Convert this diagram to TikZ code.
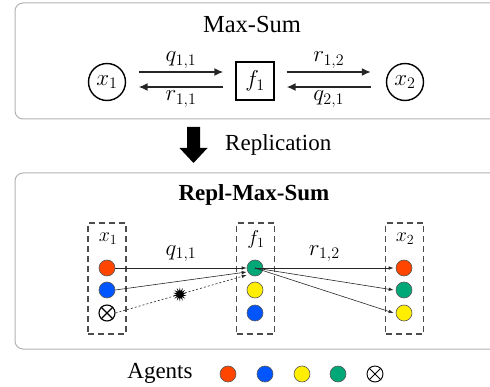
\documentclass[tikz,border=0pt]{standalone}
\usepackage{fix-cm}
\usepackage{fontspec}
\setmainfont{Liberation Serif}
\usetikzlibrary{arrows.meta,shapes.geometric}
\definecolor{aorange}{HTML}{FF4500}
\definecolor{ablue}{HTML}{0055FF}
\definecolor{ayellow}{HTML}{FFEE00}
\definecolor{agreen}{HTML}{00A878}
\tikzset{
 panel/.style={draw=black!30, line width=1pt, rounded corners=8pt},
 bigtxt/.style={font=\fontsize{23}{26}\selectfont, inner sep=0},
 mathtop/.style={font=\fontsize{23}{26}\selectfont, inner sep=0},
 midtxt/.style={font=\fontsize{20}{23}\selectfont, inner sep=0},
 var/.style={circle, draw, line width=1.4pt, minimum size=37pt, inner sep=0, font=\fontsize{23}{26}\selectfont},
 fac/.style={rectangle, draw, line width=1.4pt, minimum size=38pt, inner sep=0, font=\fontsize{23}{26}\selectfont},
 msg/.style={-{Latex[length=9pt,width=8pt]}, line width=1.5pt, draw=black!85},
 grp/.style={draw=black!70, dash pattern=on 6pt off 4pt, line width=1.8pt, minimum width=38pt, minimum height=111pt, inner sep=0},
 agent/.style={circle, draw=black!65, line width=0.6pt, minimum size=16pt, inner sep=0},
 nagent/.style={circle, draw=black, line width=1.1pt, minimum size=16pt, inner sep=0},
 link/.style={-{Latex[length=5pt,width=3.5pt]}, line width=0.6pt, draw=black!85},
 dlink/.style={link, dash pattern=on 2pt off 2pt},
}
\begin{document}
\begin{tikzpicture}[x=1pt,y=-1pt]
\useasboundingbox (0,0) rectangle (490,387);
\clip (0,0) rectangle (490,387);
% top panel
\draw[panel] (15,3) rectangle (500,119);
\node[bigtxt, font=\fontsize{24.5}{28}\selectfont] (t1) at (252,25) {Max-Sum};
\node[var] (x1) at (107,82) {$x_1$};
\node[fac] (f1) at (255,81) {$f_1$};
\node[var] (x2) at (405,82) {$x_2$};
\draw[msg] ([xshift=12.5pt,yshift=10pt]x1.east) -- node[above=3pt, mathtop]{$q_{1,1}$} ([xshift=-12pt,yshift=9pt]f1.west);
\draw[msg] ([xshift=-12pt,yshift=-6pt]f1.west) -- node[below=3pt, mathtop]{$r_{1,1}$} ([xshift=12.5pt,yshift=-5pt]x1.east);
\draw[msg] ([xshift=12pt,yshift=9pt]f1.east) -- node[above=3pt, mathtop]{$r_{1,2}$} ([xshift=-15pt,yshift=10pt]x2.west);
\draw[msg] ([xshift=-15pt,yshift=-5pt]x2.west) -- node[below=3pt, mathtop]{$q_{2,1}$} ([xshift=12pt,yshift=-6pt]f1.east);
% replication arrow
\fill (187,127) -- (200,127) -- (200,148) -- (207.5,148) -- (193.5,163) -- (179.5,148) -- (187,148) -- cycle;
\node[bigtxt, anchor=west] (rep) at (225,145) {Replication};
% bottom panel
\draw[panel] (15,173) rectangle (500,349);
\node[bigtxt, font=\fontsize{23}{26}\selectfont\bfseries] (t2) at (254,195) {Repl-Max-Sum};
\node[grp] (gx1) at (107,278.5) {};
\node[grp] (gf1) at (255.5,278.5) {};
\node[grp] (gx2) at (404.5,278.5) {};
\node[midtxt] (lx1) at (108,239) {$x_1$};
\node[midtxt] (lf1) at (256,240) {$f_1$};
\node[midtxt] (lx2) at (405,239) {$x_2$};
\node[agent, fill=aorange] (a11) at (107,268) {};
\node[agent, fill=ablue] (a12) at (107,290) {};
\node[nagent] (a13) at (107,313) {};
\draw[line width=1.1pt] (a13.north west) -- (a13.south east) (a13.north east) -- (a13.south west);
\node[agent, fill=agreen] (b1) at (255,268) {};
\node[agent, fill=ayellow] (b2) at (255,290) {};
\node[agent, fill=ablue] (b3) at (255,313) {};
\node[agent, fill=aorange] (c1) at (404,268) {};
\node[agent, fill=agreen] (c2) at (404,290) {};
\node[agent, fill=ayellow] (c3) at (404,313) {};
\draw[link] (a11.east) -- node[above=6pt, mathtop]{$q_{1,1}$} (b1.west);
\draw[link] (a12.east) -- ([yshift=-4pt]b1.west);
\draw[dlink] (a13.east) -- node[pos=0.49, star, star points=14, star point ratio=2.2, fill=black, minimum size=14pt, inner sep=0] (st) {} ([yshift=-7pt]b1.west);
\draw[link] (b1.center) -- node[above=6pt, mathtop]{$r_{1,2}$} ([xshift=-2pt]c1.west);
\draw[link] (b1.center) -- ([xshift=-2pt]c2.west);
\draw[link] (b1.center) -- ([xshift=-2pt]c3.west);
% legend
\node[bigtxt] (ag) at (160,373) {Agents};
\node[agent, fill=aorange] (l1) at (228,374) {};
\node[agent, fill=ablue] (l2) at (265,374) {};
\node[agent, fill=ayellow] (l3) at (302,374) {};
\node[agent, fill=agreen] (l4) at (338,374) {};
\node[nagent, line width=0.9pt] (l5) at (375,374) {};
\draw[line width=0.9pt] (l5.north west) -- (l5.south east) (l5.north east) -- (l5.south west);
\end{tikzpicture}
\end{document}
